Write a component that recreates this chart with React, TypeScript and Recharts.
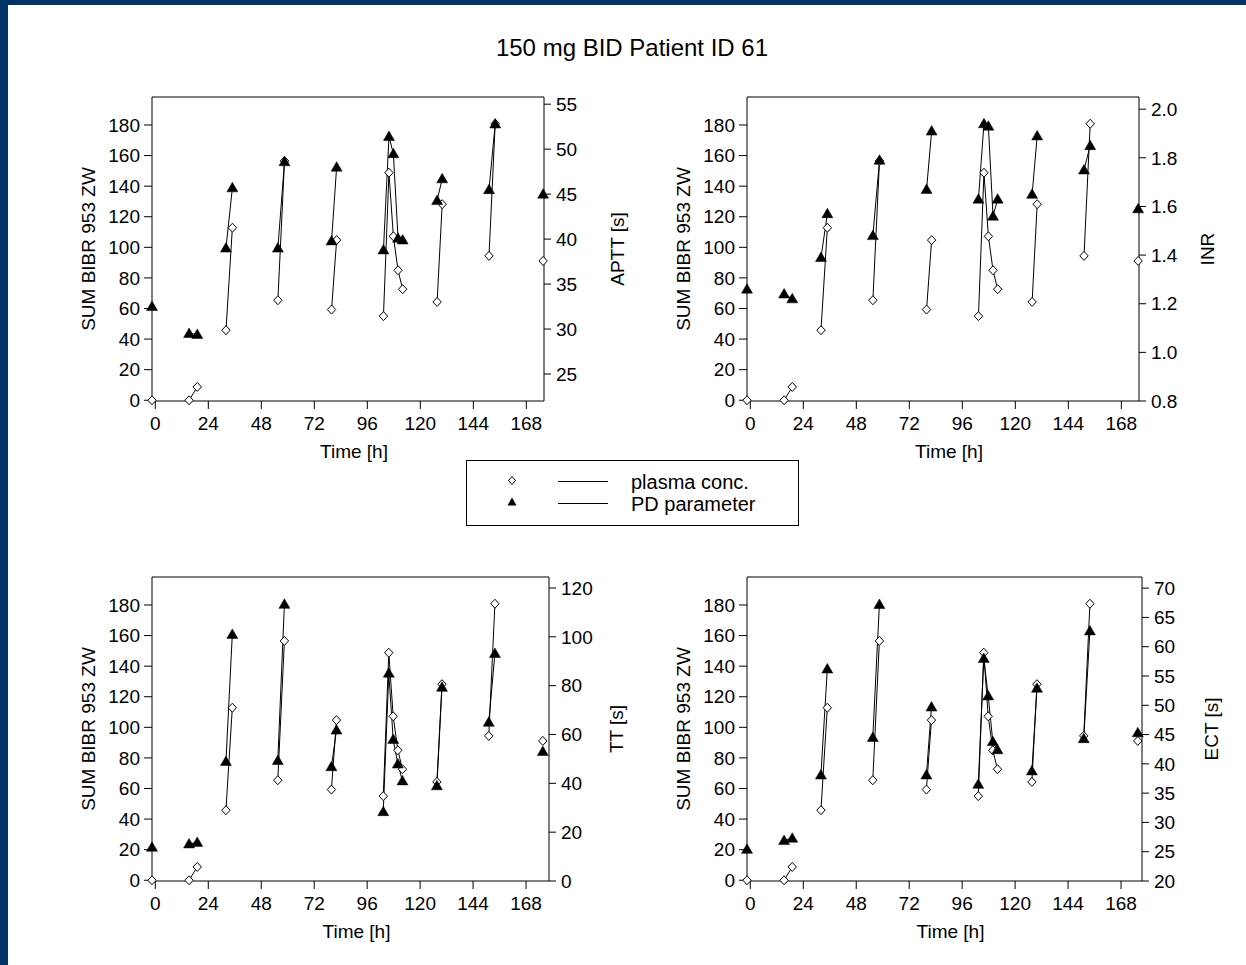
import React from 'react';
import { ComposedChart, Line, XAxis, YAxis, ReferenceLine } from 'recharts';

// sampling times (h) and the dosing interval each sample belongs to
const hours = [-1.5, 15.3, 19.0, 32.0, 34.9, 55.5, 58.5, 79.8, 82.1, 103.3, 105.8, 107.8, 109.9, 112.0, 127.6, 129.9, 151.1, 153.9, 175.6];
const visit = [0, 1, 1, 2, 2, 3, 3, 4, 4, 5, 5, 5, 5, 5, 6, 6, 7, 7, 8];

const plasmaConc = [0, 0, 8.7, 45.8, 112.8, 65.4, 156.5, 59.3, 104.7, 55.0, 148.8, 107.2, 85.0, 72.6, 64.3, 128.2, 94.4, 180.8, 91.1];
const apttSec = [32.5, 29.5, 29.4, 39.0, 45.7, 39.0, 48.6, 39.8, 48.0, 38.8, 51.4, 49.5, 40.1, 39.9, 44.3, 46.7, 45.5, 52.8, 45.0];
const inrValues = [1.26, 1.24, 1.22, 1.39, 1.57, 1.48, 1.79, 1.67, 1.91, 1.63, 1.94, 1.93, 1.56, 1.63, 1.65, 1.89, 1.75, 1.85, 1.59];
const ttSec = [13.8, 15.2, 15.8, 48.9, 101.0, 49.3, 113.3, 46.8, 61.8, 28.4, 85.1, 58.0, 47.9, 41.0, 39.0, 79.3, 65.0, 93.2, 53.0];
const ectSec = [25.4, 26.9, 27.3, 38.1, 56.2, 44.5, 67.2, 38.1, 49.7, 36.5, 58.0, 51.6, 43.8, 42.4, 38.8, 52.9, 44.3, 62.7, 45.3];

const hourTicks = [0, 24, 48, 72, 96, 120, 144, 168];
const concTicks = [0, 20, 40, 60, 80, 100, 120, 140, 160, 180];
const apttTicks = [25, 30, 35, 40, 45, 50, 55];
const inrTicks = [0.8, 1.0, 1.2, 1.4, 1.6, 1.8, 2.0];
const ttTicks = [0, 20, 40, 60, 80, 100, 120];
const ectTicks = [20, 25, 30, 35, 40, 45, 50, 55, 60, 65, 70];

const FONT = '"Liberation Sans", Arial, sans-serif';
const FS = 19;
const CONC_DOMAIN: [number, number] = [-0.5, 198.3];

type Row = { t: number; v: number | null };

// one row per sample, with a null row between dosing intervals so lines break
function segments(values: number[]): Row[] {
  const rows: Row[] = [];
  hours.forEach((t, i) => {
    if (i > 0 && visit[i] !== visit[i - 1]) rows.push({ t: (t + hours[i - 1]) / 2, v: null });
    rows.push({ t, v: values[i] });
  });
  return rows;
}

function OpenDiamond(props: any) {
  const { cx, cy, index, payload } = props;
  if (cx == null || cy == null || payload?.v == null) return <g key={`od-${index}`} />;
  return (
    <path
      key={`od-${index}`}
      d={`M${cx},${cy - 4.5}L${cx + 4.2},${cy}L${cx},${cy + 4.5}L${cx - 4.2},${cy}Z`}
      fill="#fff"
      stroke="#000"
      strokeWidth={1}
    />
  );
}

function FilledTriangle(props: any) {
  const { cx, cy, index, payload } = props;
  if (cx == null || cy == null || payload?.v == null) return <g key={`ft-${index}`} />;
  return (
    <path
      key={`ft-${index}`}
      d={`M${cx},${cy - 5.5}L${cx + 5.5},${cy + 4}L${cx - 5.5},${cy + 4}Z`}
      fill="#000"
      stroke="#000"
      strokeWidth={0.5}
    />
  );
}

type PanelProps = {
  left: number;
  top: number;
  plotLeft: number;
  plotRight: number;
  rightWidth: number;
  xMax: number;
  pd: number[];
  pdDomain: [number, number];
  pdTicks: number[];
  pdLabel: string;
  pdFormat?: (v: number) => string;
};

function Panel({ left, top, plotLeft, plotRight, rightWidth, xMax, pd, pdDomain, pdTicks, pdLabel, pdFormat }: PanelProps) {
  const leftWidth = 128;
  const marginLeft = plotLeft - left - leftWidth;
  const width = plotRight + rightWidth - left;
  const plotH = 304;
  const tick = { fill: '#000', fontSize: FS };
  return (
    <div style={{ position: 'absolute', left, top }}>
      <ComposedChart width={width} height={17 + plotH + 100} margin={{ top: 17, right: 0, bottom: 0, left: marginLeft }}>
        <XAxis
          xAxisId="b"
          type="number"
          dataKey="t"
          domain={[-1.5, xMax]}
          ticks={hourTicks}
          height={100}
          stroke="#000"
          tickSize={8}
          tickMargin={8}
          tick={tick}
          label={{ value: 'Time [h]', position: 'center', fill: '#000', fontSize: FS, dx: 6 }}
        />
        <YAxis
          yAxisId="c"
          type="number"
          domain={CONC_DOMAIN}
          ticks={concTicks}
          width={leftWidth}
          stroke="#000"
          tickSize={8}
          tickMargin={4}
          tick={tick}
          label={{ value: 'SUM BIBR 953 ZW', angle: -90, position: 'center', fill: '#000', fontSize: FS }}
        />
        <YAxis
          yAxisId="pd"
          orientation="right"
          type="number"
          domain={pdDomain}
          ticks={pdTicks}
          width={rightWidth}
          stroke="#000"
          tickSize={7}
          tickMargin={5}
          tick={tick}
          tickFormatter={pdFormat}
          label={{ value: pdLabel, angle: -90, position: 'center', fill: '#000', fontSize: FS }}
        />
        <ReferenceLine xAxisId="b" yAxisId="c" y={CONC_DOMAIN[1]} stroke="#000" />
        <Line
          xAxisId="b"
          yAxisId="c"
          data={segments(plasmaConc)}
          dataKey="v"
          type="linear"
          stroke="#000"
          strokeWidth={1}
          dot={OpenDiamond}
          activeDot={false}
          connectNulls={false}
          isAnimationActive={false}
        />
        <Line
          xAxisId="b"
          yAxisId="pd"
          data={segments(pd)}
          dataKey="v"
          type="linear"
          stroke="#000"
          strokeWidth={1}
          dot={FilledTriangle}
          activeDot={false}
          connectNulls={false}
          isAnimationActive={false}
        />
      </ComposedChart>
    </div>
  );
}

export default function App() {
  return (
    <div
      style={{
        position: 'absolute',
        left: 0,
        top: 0,
        width: 1246,
        height: 965,
        background: '#fff',
        overflow: 'hidden',
        fontFamily: FONT,
      }}
    >
      <div style={{ position: 'absolute', left: 0, top: 0, width: 1246, height: 5, background: '#003366' }} />
      <div style={{ position: 'absolute', left: 0, top: 0, width: 8, height: 965, background: '#003366' }} />

      <svg width={1246} height={965} style={{ position: 'absolute', left: 0, top: 0 }}>
        <text x={632} y={56} textAnchor="middle" fontSize={24} fill="#000">
          150 mg BID Patient ID 61
        </text>
        <rect x={466.5} y={460.5} width={332} height={65} fill="#fff" stroke="#000" strokeWidth={1} />
        <path d="M512,476.5L515.5,480.5L512,484.5L508.5,480.5Z" fill="#fff" stroke="#000" />
        <line x1={558} y1={481.5} x2={608} y2={481.5} stroke="#000" />
        <text x={631} y={489} fontSize={20} fill="#000">plasma conc.</text>
        <path d="M512,497.5L516.5,505.5L507.5,505.5Z" fill="#000" />
        <line x1={558} y1={503.5} x2={608} y2={503.5} stroke="#000" />
        <text x={631} y={511} fontSize={20} fill="#000">PD parameter</text>
      </svg>

      <Panel left={0} top={80} plotLeft={152} plotRight={544} rightWidth={146} xMax={176} pd={apttSec} pdDomain={[22, 55.8]} pdTicks={apttTicks} pdLabel="APTT [s]" />
      <Panel
        left={595}
        top={80}
        plotLeft={747}
        plotRight={1139}
        rightWidth={136}
        xMax={176}
        pd={inrValues}
        pdDomain={[0.8, 2.05]}
        pdTicks={inrTicks}
        pdLabel="INR"
        pdFormat={(v: number) => v.toFixed(1)}
      />
      <Panel left={0} top={560} plotLeft={152} plotRight={549} rightWidth={134} xMax={178.4} pd={ttSec} pdDomain={[0, 124.5]} pdTicks={ttTicks} pdLabel="TT [s]" />
      <Panel left={595} top={560} plotLeft={747} plotRight={1142} rightWidth={138} xMax={177.5} pd={ectSec} pdDomain={[20, 71.9]} pdTicks={ectTicks} pdLabel="ECT [s]" />
    </div>
  );
}
